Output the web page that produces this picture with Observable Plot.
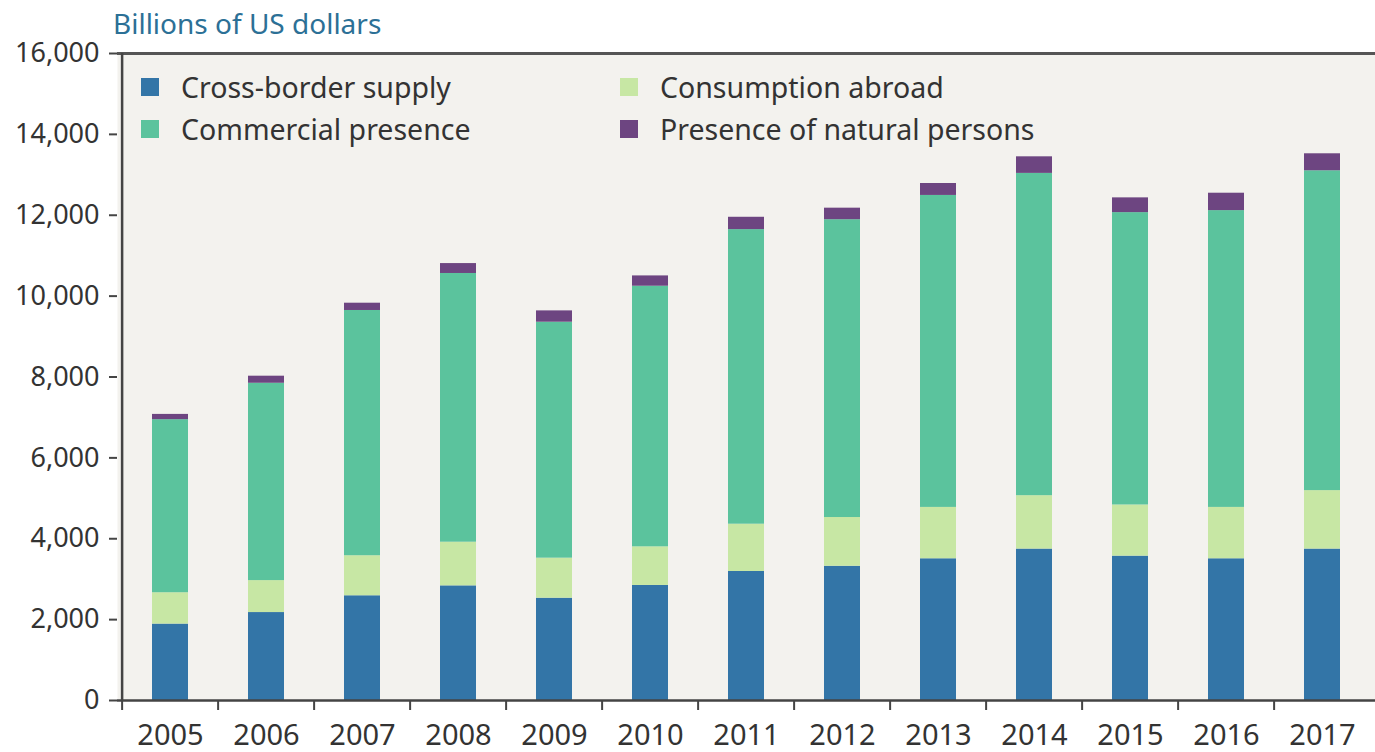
<!DOCTYPE html>
<html>
<head>
<meta charset="utf-8">
<script src="https://cdn.jsdelivr.net/npm/d3@7"></script>
<script src="https://cdn.jsdelivr.net/npm/@observablehq/plot@0.6"></script>
<style>
  html, body { margin: 0; padding: 0; background: #fff; overflow: hidden; }
  #wrap { position: relative; width: 1375px; height: 752px; font-family: "Noto Sans", sans-serif; overflow: hidden; }
  #title { position: absolute; left: 113px; top: 4px; font-size: 28px; color: #2c7096; white-space: nowrap; }
  #chart { position: absolute; left: 0; top: 45px; }
  .leg { position: absolute; font-size: 28.5px; color: #333; white-space: nowrap; display: flex; align-items: center; }
  .sw { width: 18px; height: 18px; margin-right: 22px; display: inline-block; }
</style>
</head>
<body>
<div id="wrap">
  <div id="title">Billions of US dollars</div>
  <div id="chart"></div>
  <div id="legend"></div>
</div>
<script>
const years = ["2005","2006","2007","2008","2009","2010","2011","2012","2013","2014","2015","2016","2017"];
const seriesNames = ["Cross-border supply","Consumption abroad","Commercial presence","Presence of natural persons"];
const seriesColors = ["#3375a7","#c7e7a4","#5bc39d","#6d4581"];
const crossBorder = [1890, 2175, 2590, 2835, 2530, 2845, 3190, 3320, 3505, 3745, 3570, 3505, 3745];
const consumptionAbroad = [775, 790, 990, 1080, 990, 955, 1170, 1205, 1270, 1320, 1265, 1270, 1445];
const commercialPresence = [4280, 4880, 6065, 6645, 5835, 6445, 7285, 7365, 7715, 7970, 7230, 7340, 7910];
const naturalPersons = [130, 175, 180, 245, 280, 255, 305, 285, 295, 410, 365, 430, 420];
const yTicks = [0, 2000, 4000, 6000, 8000, 10000, 12000, 14000, 16000];

const seriesValues = [crossBorder, consumptionAbroad, commercialPresence, naturalPersons];
const data = [];
years.forEach((yr, i) => {
  seriesNames.forEach((s, j) => data.push({year: yr, series: s, value: seriesValues[j][i]}));
});

const W = 1375, H = 707, ML = 117, MR = 0, MT = 8, MB = 52;
const step = (W - ML - MR) / years.length;
const font = '"Noto Sans", sans-serif';

const plot = Plot.plot({
  width: W, height: H,
  marginLeft: ML, marginRight: MR, marginTop: MT, marginBottom: MB,
  style: {fontFamily: font, fontSize: "27px", color: "#333", background: "transparent", overflow: "visible"},
  x: {domain: years, paddingInner: 0.62, paddingOuter: 0.31, axis: null},
  y: {domain: [0, 16000], axis: null},
  color: {domain: seriesNames, range: seriesColors},
  marks: [
    Plot.frame({fill: "#f3f2ee", stroke: null}),
    Plot.barY(data, {x: "year", y: "value", fill: "series", order: seriesNames}),
    Plot.axisY({ticks: yTicks, tickFormat: d3.format(","), tickSize: 8, tickPadding: 10, strokeWidth: 2, stroke: "#444", fontSize: 27, label: null}),
    Plot.axisX({tickSize: 10, tickFormat: () => "", dx: -step / 2, strokeWidth: 2, stroke: "#444", label: null}),
    Plot.axisX({tickSize: 0, tickPadding: 24, fontSize: 29, label: null}),
    Plot.ruleY([0], {stroke: "#444", strokeWidth: 2.5}),
    Plot.ruleY([16000], {stroke: "#555", strokeWidth: 3}),
    Plot.ruleX([years[0]], {y1: 0, y2: 16000, dx: -step / 2, stroke: "#444", strokeWidth: 2.5})
  ]
});
document.getElementById("chart").appendChild(plot);

// legend overlay
const legendPos = [
  {s: 0, left: 141, top: 68},
  {s: 1, left: 620, top: 68},
  {s: 2, left: 141, top: 110},
  {s: 3, left: 620, top: 110}
];
const leg = document.getElementById("legend");
legendPos.forEach(p => {
  const d = document.createElement("div");
  d.className = "leg";
  d.style.left = p.left + "px";
  d.style.top = p.top + "px";
  d.innerHTML = `<span class="sw" style="background:${seriesColors[p.s]}"></span><span>${seriesNames[p.s]}</span>`;
  leg.appendChild(d);
});
</script>
</body>
</html>
